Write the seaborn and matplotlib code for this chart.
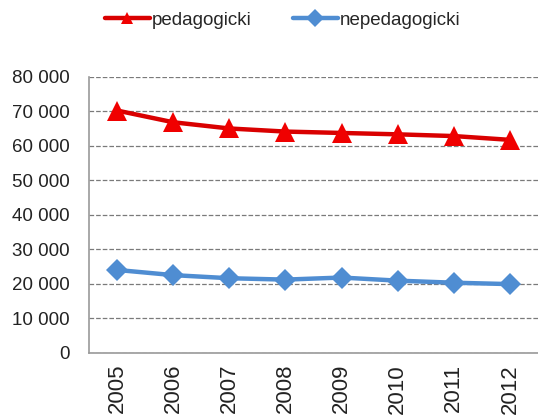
import pandas as pd
import seaborn as sns
import matplotlib.pyplot as plt
from matplotlib.ticker import FuncFormatter

years = ["2005", "2006", "2007", "2008", "2009", "2010", "2011", "2012"]
pedagogicki = [70200, 66800, 65000, 64100, 63700, 63300, 62800, 61700]
nepedagogicki = [24000, 22500, 21600, 21200, 21800, 20900, 20300, 19900]
series = ["pedagogicki", "nepedagogicki"]

df = pd.DataFrame({
    "year": years * 2,
    "value": pedagogicki + nepedagogicki,
    "series": [series[0]] * len(years) + [series[1]] * len(years),
})

sns.set_style("white")
plt.rcParams["font.family"] = ["Liberation Sans", "DejaVu Sans"]

fig = plt.figure(figsize=(5.38, 4.16), dpi=100)
ax = fig.add_axes([0.1654, 0.152, 0.8346, 0.6636])

sns.lineplot(data=df, x="year", y="value", hue="series", style="series",
             palette={"pedagogicki": "#D90000", "nepedagogicki": "#4F8DD2"},
             markers={"pedagogicki": "^", "nepedagogicki": "D"},
             dashes=False, linewidth=3.2, markersize=14, markeredgewidth=0,
             ax=ax)

# brighter red for the triangles, slightly smaller diamonds
for line in ax.lines:
    if line.get_marker() == "^":
        line.set_markerfacecolor("#F00000")
    elif line.get_marker() == "D":
        line.set_markersize(11)

ax.set_xlim(-0.5, 7.5)
ax.set_ylim(0, 80000)
ax.set_yticks(range(0, 80001, 10000))
ax.yaxis.set_major_formatter(FuncFormatter(lambda v, p: f"{int(v):,}".replace(",", " ")))
ax.set_xlabel("")
ax.set_ylabel("")
ax.grid(axis="y", linestyle="--", color="#7a7a7a", linewidth=0.9)
ax.set_axisbelow(True)

for s in ["top", "right"]:
    ax.spines[s].set_visible(False)
for s in ["left", "bottom"]:
    ax.spines[s].set_color("#9a9a9a")
    ax.spines[s].set_linewidth(1.2)

ax.tick_params(axis="y", labelsize=13.5, length=0, pad=14, labelcolor="#222222")
ax.tick_params(axis="x", length=0, pad=8)
for lbl in ax.get_xticklabels():
    lbl.set_rotation(90)
    lbl.set_fontsize(16)
    lbl.set_color("#222222")

handles, labels = ax.get_legend_handles_labels()
ax.legend_.remove()
for h in handles:
    h.set_linewidth(3.2)
    h.set_markersize(9)
fig.legend(handles, labels, loc="center", bbox_to_anchor=(0.525, 0.952), ncol=2,
           frameon=False, fontsize=13.5, handlelength=2.4, handletextpad=0.1,
           columnspacing=2.2)

fig.savefig("out.png", dpi=100)
